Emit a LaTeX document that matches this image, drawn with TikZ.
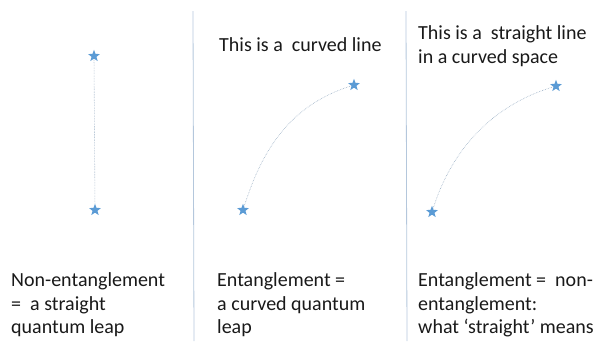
\documentclass[tikz,border=0pt]{standalone}
\usepackage{fontspec}
\setmainfont{Carlito}
\usetikzlibrary{shapes.geometric}
\definecolor{starblue}{HTML}{5B9BD5}
\definecolor{divider}{HTML}{B4C7DC}
\definecolor{leapcol}{HTML}{9AAFC4}
\tikzset{
  starnode/.style={star, star points=5, star point ratio=2.4, fill=starblue, draw=none, minimum size=12.5pt, inner sep=0pt},
  leap/.style={leapcol, densely dotted, line width=0.6pt},
  sep/.style={divider, line width=0.8pt},
  lbl/.style={anchor=base west, inner sep=0pt, font=\fontsize{20}{23.5}\selectfont, text=black!90}
}
\begin{document}
\begin{tikzpicture}[x=1pt,y=-1pt]
\useasboundingbox (0,0) rectangle (595,341);
% dividers
\coordinate (d1a) at (193,11); \coordinate (d1b) at (194,341);
\coordinate (d2a) at (406,11); \coordinate (d2b) at (407,341);
\draw[sep] (d1a) -- (d1b);
\draw[sep] (d2a) -- (d2b);
% stars
\node[starnode] (s1) at (94,56) {};
\node[starnode] (s2) at (95,210) {};
\node[starnode] (s3) at (354,85) {};
\node[starnode] (s4) at (243,210) {};
\node[starnode] (s5) at (556,86) {};
\node[starnode] (s6) at (432,212) {};
% leaps
\draw[leap] (s1) -- (s2);
\draw[leap] (s4) .. controls (262,150) and (290,105) .. (s3);
\draw[leap] (s6) .. controls (451,152) and (490,106) .. (s5);
% texts
\node[lbl] (t1a) at (11,286.7) {Non-entanglement};
\node[lbl] (t1b) at (11,310) {=\ \ a straight};
\node[lbl] (t1c) at (11,333.5) {quantum leap};
\node[lbl] (t2a) at (217,286.7) {Entanglement =};
\node[lbl] (t2b) at (217,310) {a curved quantum};
\node[lbl] (t2c) at (217,333.5) {leap};
\node[lbl] (t3a) at (418,286.7) {Entanglement =\ \ non-};
\node[lbl] (t3b) at (418,310) {entanglement:};
\node[lbl] (t3c) at (418,333.5) {what ‘straight’ means};
\node[lbl] (h2) at (219,51.7) {This is a\ \ curved line};
\node[lbl] (h3a) at (418,39.3) {This is a\ \ straight line};
\node[lbl] (h3b) at (418,63) {in a curved space};
\end{tikzpicture}
\end{document}
